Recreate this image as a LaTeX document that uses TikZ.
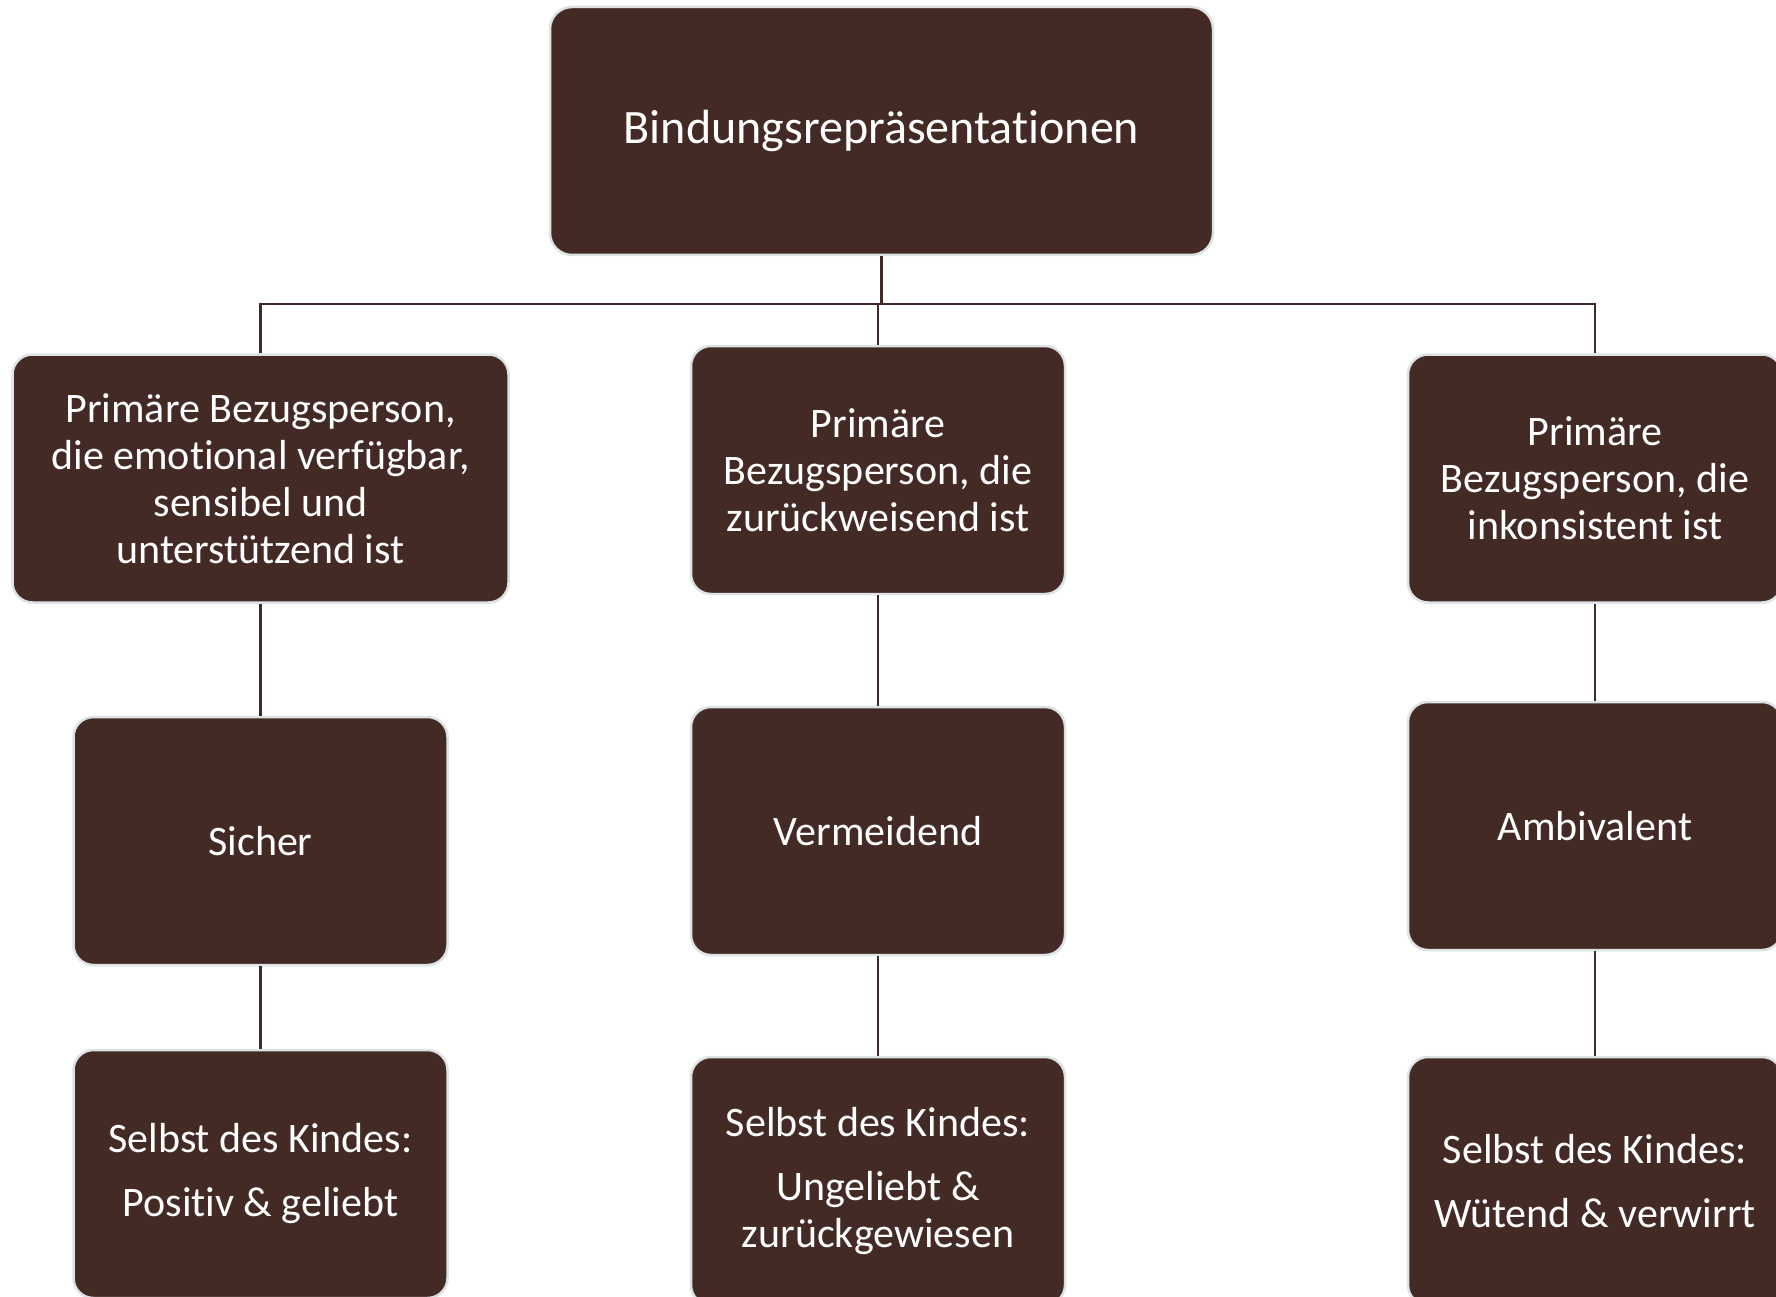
\documentclass[tikz,border=0pt]{standalone}
\usepackage{fontspec}
\setmainfont{Carlito}[Ligatures={CommonOff,ContextualOff,RareOff}]
\definecolor{boxfill}{HTML}{432A25}
\definecolor{boxedge}{HTML}{DDE3E4}
\definecolor{linecol}{HTML}{3F2A26}
\tikzset{
  x=1pt, y=-1pt,
  card/.style={draw=boxedge, line width=2.5pt, fill=boxfill, rounded corners=20pt,
    text=white, align=center, inner sep=0pt,
    minimum width=374pt, minimum height=248pt,
    font=\fontsize{42}{47}\selectfont},
  topcard/.style={card, minimum width=663pt, rounded corners=22pt,
    font=\fontsize{48}{54}\selectfont},
  wide/.style={minimum width=496pt},
  conn/.style={draw=linecol, line width=2.5pt}
}
\begin{document}
\begin{tikzpicture}
\clip (0,0) rectangle (1776,1297);
\fill[white] (0,0) rectangle (1776,1297);

\node[topcard] (top) at (881.5,131) {Bindungsrepräsentationen};

\node[card, wide] (r1l) at (260.5,478.5) {Primäre Bezugsperson,\\die emotional verfügbar,\\sensibel und\\unterstützend ist};
\node[card] (r1m) at (878,470) {Primäre\\Bezugsperson, die\\zurückweisend ist};
\node[card] (r1r) at (1595,478.5) {Primäre\\Bezugsperson, die\\inkonsistent ist};

\node[card] (r2l) at (260.5,841) {Sicher};
\node[card] (r2m) at (878,831) {Vermeidend};
\node[card] (r2r) at (1595,826) {Ambivalent};

\node[card] (r3l) at (260.5,1174) {Selbst des Kindes:\\[17pt]Positiv \& geliebt};
\node[card] (r3m) at (878,1181) {Selbst des Kindes:\\[17pt]Ungeliebt \&\\zurückgewiesen};
\node[card] (r3r) at (1595,1181) {Selbst des Kindes:\\[17pt]Wütend \& verwirrt};

\coordinate (j) at (881.5,304);
\draw[conn] (top.south) -- (j);
\draw[conn] (r1l.north) |- (j);
\draw[conn] (r1r.north) |- (j);
\draw[conn] (r1m.north) -- (r1m.north |- j);

\draw[conn] (r1l.south) -- (r2l.north);
\draw[conn] (r1m.south) -- (r2m.north);
\draw[conn] (r1r.south) -- (r2r.north);
\draw[conn] (r2l.south) -- (r3l.north);
\draw[conn] (r2m.south) -- (r3m.north);
\draw[conn] (r2r.south) -- (r3r.north);
\end{tikzpicture}
\end{document}
